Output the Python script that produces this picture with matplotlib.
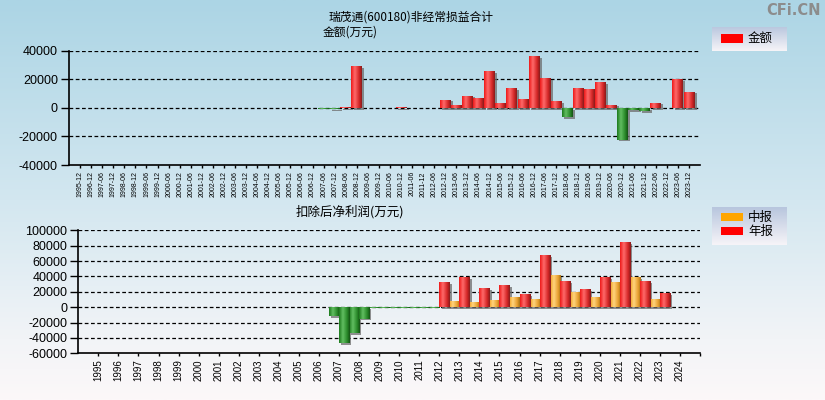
import numpy as np
import matplotlib
matplotlib.use('Agg')
import matplotlib.pyplot as plt
from matplotlib.colors import LinearSegmentedColormap, to_rgb
from matplotlib.patches import Rectangle
import matplotlib.patheffects as pe

# ---- data ----
top_labels = ['1995-12', '1996-12',
              '1997-06', '1997-12', '1998-06', '1998-12', '1999-06', '1999-12',
              '2000-06', '2000-12', '2001-06', '2001-12', '2002-06', '2002-12',
              '2003-06', '2003-12', '2004-06', '2004-12', '2005-06', '2005-12',
              '2006-06', '2006-12', '2007-06', '2007-12', '2008-06', '2008-12',
              '2009-06', '2009-12', '2010-06', '2010-12', '2011-06', '2011-12',
              '2012-06', '2012-12', '2013-06', '2013-12', '2014-06', '2014-12',
              '2015-06', '2015-12', '2016-06', '2016-12', '2017-06', '2017-12',
              '2018-06', '2018-12', '2019-06', '2019-12', '2020-06', '2020-12',
              '2021-06', '2021-12', '2022-06', '2022-12', '2023-06', '2023-12']
top_values = [0, 0,
              0, 0, 0, 0, 0, 0,
              0, 0, 0, 0, 0, 0,
              0, 0, 0, 0, 0, 0,
              0, 0, -600, -800, 500, 29200,
              0, 0, 0, 400, 0, 0,
              0, 5750, 2300, 8500, 7100, 25800,
              3700, 14000, 6400, 36100, 20900, 4600,
              -6400, 14000, 13300, 18200, 2300, -22300,
              -1600, -2500, 3700, 0, 20200, 11300]

years = [str(y) for y in range(1995, 2025)]
# 中报 (mid-year) and 年报 (annual), None = no report
mid_values = [None] * 12 + [-12070, -33620, -500, -500, -500, -500,
                            8200, 6900, 9500, 13400, 10800, 41800,
                            19800, 13400, 32800, 39200, 10800, None]
annual_values = [None] * 12 + [-46550, -15090, -500, -500, -500, 32800,
                               39200, 25000, 28900, 17200, 67700, 34100,
                               23700, 39200, 84500, 34100, 18500, None]

top_yticks = [-40000, -20000, 0, 20000, 40000]
bot_yticks = [-60000, -40000, -20000, 0, 20000, 40000, 60000, 80000, 100000]

CJK = ['Noto Sans CJK SC', 'DejaVu Sans']
plt.rcParams['font.family'] = ['Liberation Sans', 'DejaVu Sans']

RED = ['#ee1a1a', '#ff6a6a', '#d42626', '#8a1c1c']
GREEN = ['#1c7a1c', '#62be62', '#2a8a2a', '#145414']
ORANGE = ['#f0a020', '#ffd47e', '#e8a030', '#aa7416']


def strip(stops, n=40):
    cm = LinearSegmentedColormap.from_list('g', list(zip([0, 0.35, 0.75, 1], stops)))
    return cm(np.linspace(0, 1, n))[np.newaxis, :, :3]


def gradient_bars(ax, x, heights, width, pos_colors, align='center'):
    h = np.array([np.nan if v is None else v for v in heights], dtype=float)
    bars = ax.bar(x, np.nan_to_num(h), width=width, align=align, linewidth=0, zorder=3)
    for rect, v in zip(bars, h):
        if np.isnan(v) or v == 0:
            rect.set_visible(False)
            continue
        stops = pos_colors if v > 0 else GREEN
        rect.set_facecolor(stops[0])
        rect.set_path_effects([pe.SimplePatchShadow(offset=(1.6, -1.2), shadow_rgbFace='#6d6d6d', alpha=0.75),
                               pe.Normal()])
        x0, w = rect.get_x(), rect.get_width()
        y0, y1 = sorted([rect.get_y(), rect.get_y() + rect.get_height()])
        im = ax.imshow(strip(stops), extent=[x0, x0 + w, y0, y1], aspect='auto',
                       interpolation='bilinear', zorder=4)
        im.set_clip_path(rect)


def style_axes(ax, yticks):
    ax.set_facecolor('none')
    for s in ['top', 'right']:
        ax.spines[s].set_visible(False)
    for s in ['left', 'bottom']:
        ax.spines[s].set_linewidth(1.2)
    ax.set_yticks(yticks)
    ax.set_yticklabels([str(t) for t in yticks])
    ax.set_ylim(yticks[0], yticks[-1])
    ax.tick_params(axis='y', direction='out', length=5.5, width=1, pad=2.5, labelsize=9)
    for t in yticks[1:]:
        ax.axhline(t, color='black', lw=0.9, ls=(0, (3, 2)), zorder=2)


fig = plt.figure(figsize=(8.25, 4.0), dpi=100)

# background gradient
bg = fig.add_axes([0, 0, 1, 1], zorder=-10)
bg_cm = LinearSegmentedColormap.from_list('bg', [(0, '#acd5e5'), (0.5, '#d3e7f0'), (0.85, '#f2f4f7'), (1, '#fcf8f9')])
bg.imshow(np.linspace(0, 1, 256)[:, np.newaxis], cmap=bg_cm, aspect='auto', extent=[0, 1, 0, 1])
bg.set_axis_off()

# ---- top chart ----
ax1 = fig.add_axes([69 / 825, 1 - 165 / 400, 631 / 825, 114.3 / 400])
style_axes(ax1, top_yticks)
x1 = np.arange(len(top_labels))
gradient_bars(ax1, x1, top_values, 0.97, RED)
ax1.set_xticks(x1)
ax1.set_xticklabels(top_labels, rotation=90, fontsize=5)
ax1.tick_params(axis='x', direction='out', length=2.5, width=1, pad=2)
ax1.set_xlim(-1, len(top_labels))
ax1.set_ylim(top_yticks[0], top_yticks[-1])

# ---- bottom chart ----
ax2 = fig.add_axes([78.3 / 825, 1 - 353.3 / 400, 621.7 / 825, 123 / 400])
style_axes(ax2, bot_yticks)
x2 = np.arange(len(years))
gradient_bars(ax2, x2 - 0.5, mid_values, 0.5, ORANGE, align='edge')
gradient_bars(ax2, x2, annual_values, 0.5, RED, align='edge')
ax2.set_xticks(list(x2) + [len(years)])
ax2.set_xticklabels(years + [''], rotation=90, fontsize=7)
ax2.tick_params(axis='x', direction='out', length=2.5, width=1, pad=2)
ax2.set_xlim(-1, len(years))
ax2.set_ylim(bot_yticks[0], bot_yticks[-1])

# ---- titles ----
fig.text(411 / 825, 1 - 17 / 400, '瑞茂通(600180)非经常损益合计', ha='center', va='center',
         fontsize=8.5, family=CJK)
fig.text(350 / 825, 1 - 32 / 400, '金额(万元)', ha='center', va='center', fontsize=8.5, family=CJK)
fig.text(350 / 825, 1 - 212 / 400, '扣除后净利润(万元)', ha='center', va='center', fontsize=9, family=CJK)
fig.text(0.995, 0.992, 'CFi.CN', ha='right', va='top', fontsize=10.5, fontweight='bold',
         color='#8c8c8c', family=['DejaVu Sans'])


# ---- legends ----
def legend_box(rect, entries):
    lg = fig.add_axes(rect, zorder=5)
    cm = LinearSegmentedColormap.from_list('lg', ['#f6f4f8', '#b8c6de'])
    lg.imshow(np.linspace(0, 1, 64)[:, np.newaxis], cmap=cm, aspect='auto', extent=[0, 1, 0, 1],
              origin='lower')
    lg.set_xlim(0, 1)
    lg.set_ylim(0, 1)
    lg.set_axis_off()
    for color, label, y0, y1 in entries:
        lg.add_patch(Rectangle((0.12, y0), 0.29, y1 - y0, color=color, lw=0))
        lg.text(0.48, (y0 + y1) / 2, label, va='center', ha='left', fontsize=9, family=CJK)


legend_box([712 / 825, 1 - 51 / 400, 75 / 825, 24 / 400], [('#ff0000', '金额', 0.33, 0.71)])
legend_box([712 / 825, 1 - 245 / 400, 75 / 825, 38 / 400],
           [('#ffa500', '中报', 0.63, 0.84), ('#ff0000', '年报', 0.26, 0.47)])

fig.savefig('out.png', dpi=100)
